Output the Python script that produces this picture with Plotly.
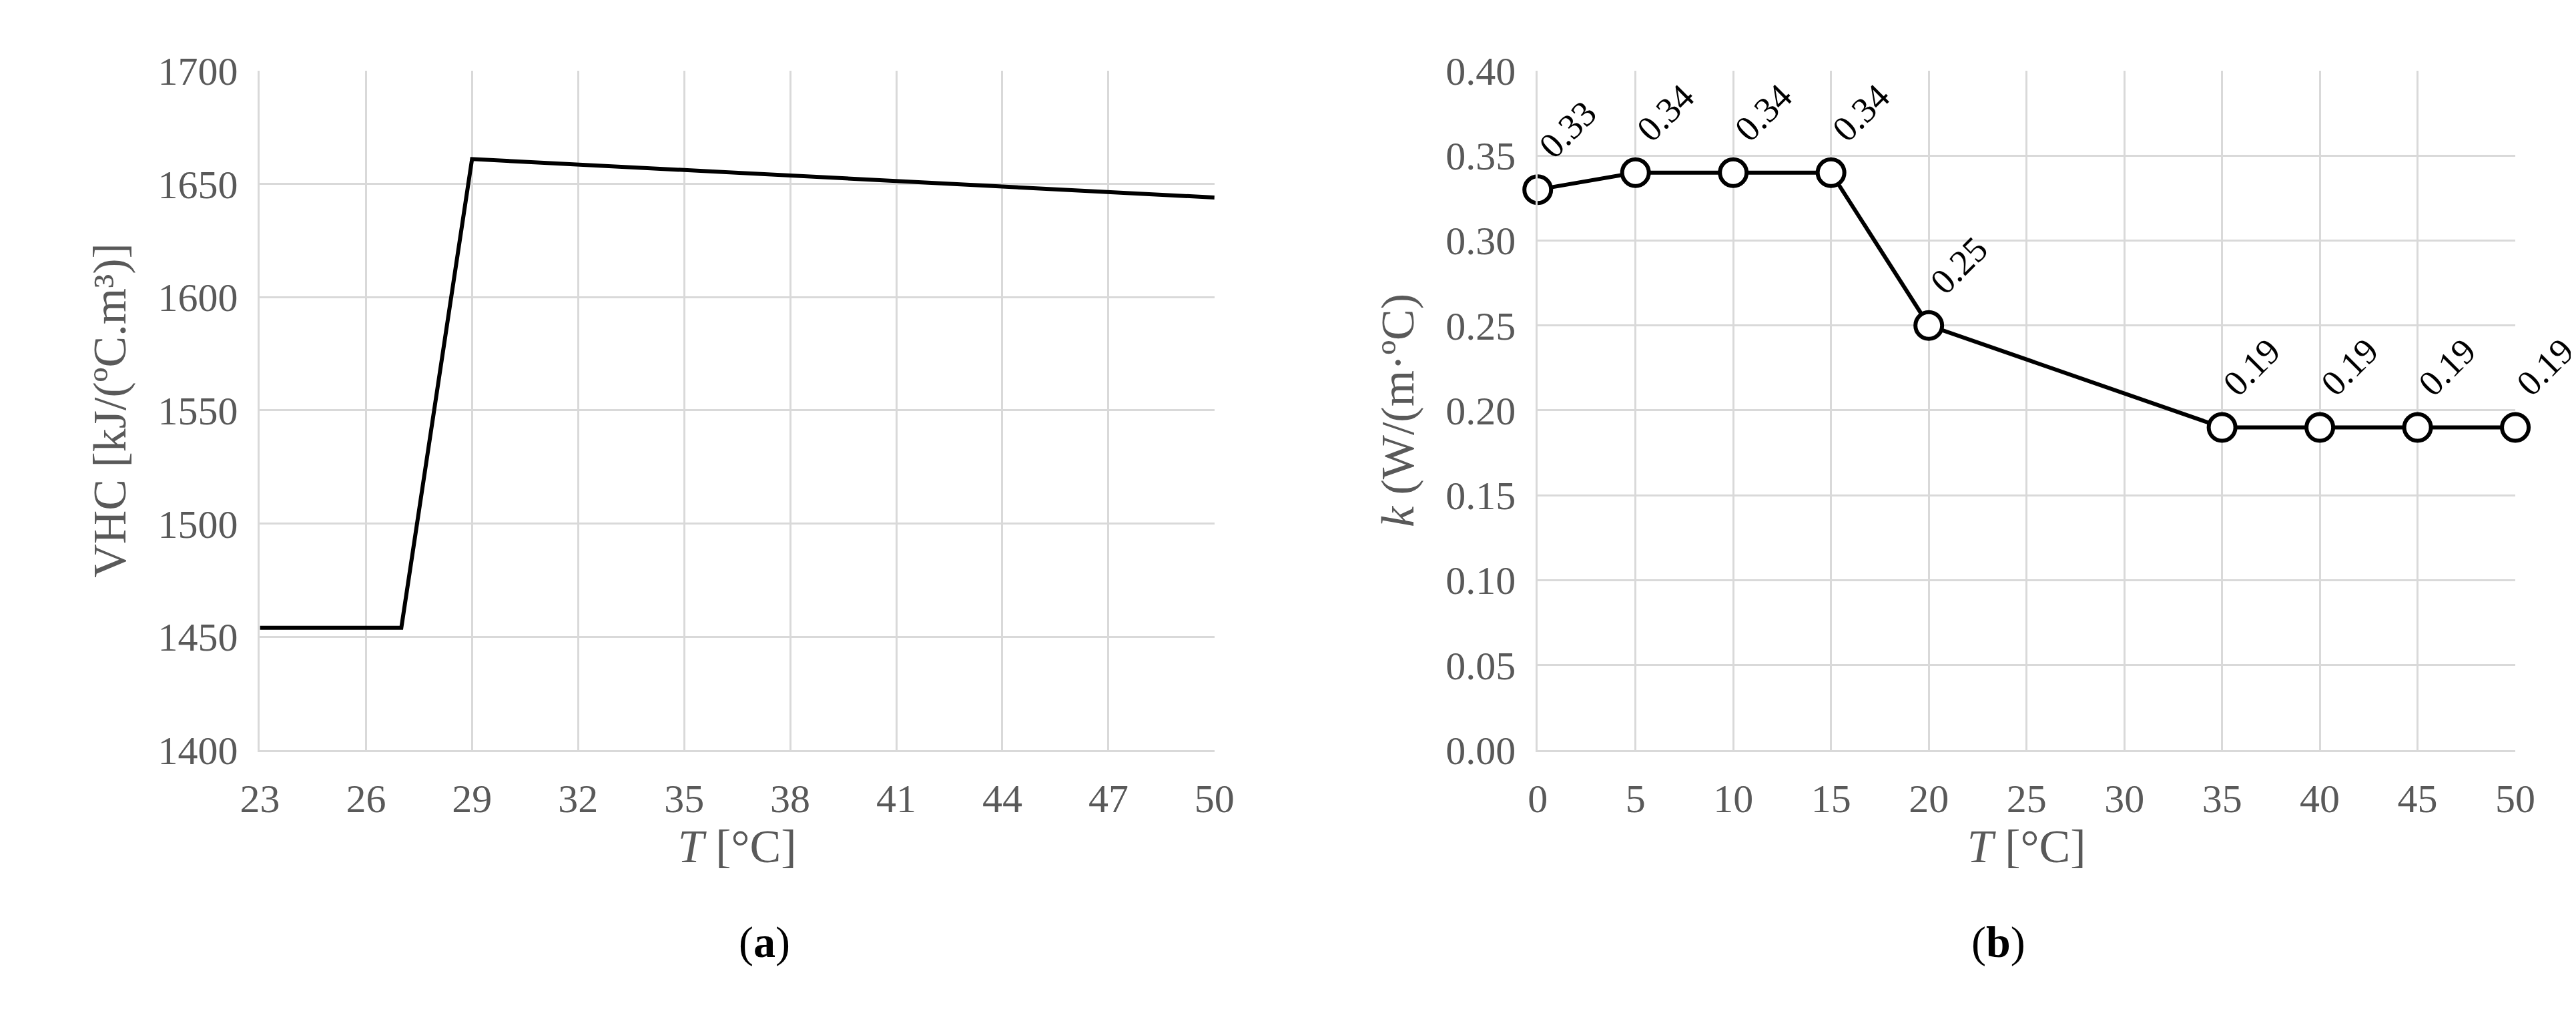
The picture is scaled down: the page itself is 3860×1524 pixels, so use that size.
import plotly.graph_objects as go

vhc_T = [23, 27, 29, 50]
vhc_val = [1454, 1454, 1661, 1644]
k_T = [0, 5, 10, 15, 20, 35, 40, 45, 50]
k_val = [0.33, 0.34, 0.34, 0.34, 0.25, 0.19, 0.19, 0.19, 0.19]
k_labels = ["0.33", "0.34", "0.34", "0.34", "0.25", "0.19", "0.19", "0.19", "0.19"]
xa_ticks = [23, 26, 29, 32, 35, 38, 41, 44, 47, 50]

W, H = 3860, 1524
FONT = "Liberation Serif"
GRAY = "#595959"
GRID = "#d9d9d9"

fig = go.Figure()
fig.add_trace(go.Scatter(x=vhc_T, y=vhc_val, mode="lines",
                         line=dict(color="black", width=6), xaxis="x", yaxis="y"))
fig.add_trace(go.Scatter(x=k_T, y=k_val, mode="lines+markers",
                         line=dict(color="black", width=6),
                         marker=dict(size=40, color="white", line=dict(color="black", width=6)),
                         xaxis="x2", yaxis="y2", cliponaxis=False))

for x, y, t in zip(k_T, k_val, k_labels):
    fig.add_annotation(x=x, y=y, xref="x2", yref="y2", text=t, showarrow=False,
                       textangle=-45, xshift=45, yshift=90,
                       font=dict(family=FONT, size=54, color="black"))

ax = dict(showgrid=True, gridcolor=GRID, gridwidth=3, zeroline=False,
          showline=True, linecolor=GRID, linewidth=3, ticks="outside", ticklen=18,
          tickcolor="rgba(0,0,0,0)",
          tickfont=dict(family=FONT, size=60, color=GRAY), mirror=False)
tf = dict(family=FONT, size=70, color=GRAY)

fig.update_layout(
    width=W, height=H, paper_bgcolor="white", plot_bgcolor="white",
    showlegend=False, margin=dict(l=0, r=0, t=0, b=0),
    xaxis=dict(ax, domain=[357 / W, 1810 / W], range=[23, 50], tickvals=xa_ticks,
               anchor="y", title=dict(text="<i>T</i> [°C]", font=tf, standoff=15)),
    yaxis=dict(ax, domain=[1 - 1133 / H, 1 - 69 / H], range=[1400, 1700], dtick=50,
               anchor="x", title=dict(text="VHC [kJ/(ºC.m³)]", font=tf, standoff=25)),
    xaxis2=dict(ax, domain=[2302 / W, 3790 / W], range=[0, 50], dtick=5, anchor="y2",
                title=dict(text="<i>T</i> [°C]", font=tf, standoff=15)),
    yaxis2=dict(ax, domain=[1 - 1133 / H, 1 - 69 / H], range=[0, 0.4], dtick=0.05,
                tickformat=".2f", anchor="x2",
                title=dict(text="<i>k</i> (W/(m·ºC)", font=tf, standoff=25)),
)

fig.add_annotation(x=(357 + 1810) / 2 / W, y=1 - 1475 / H, xref="paper", yref="paper",
                   text="(<b>a</b>)", showarrow=False, font=dict(family=FONT, size=66, color="black"))
fig.add_annotation(x=(2302 + 3790) / 2 / W, y=1 - 1475 / H, xref="paper", yref="paper",
                   text="(<b>b</b>)", showarrow=False, font=dict(family=FONT, size=66, color="black"))

fig.write_html("out.html")
